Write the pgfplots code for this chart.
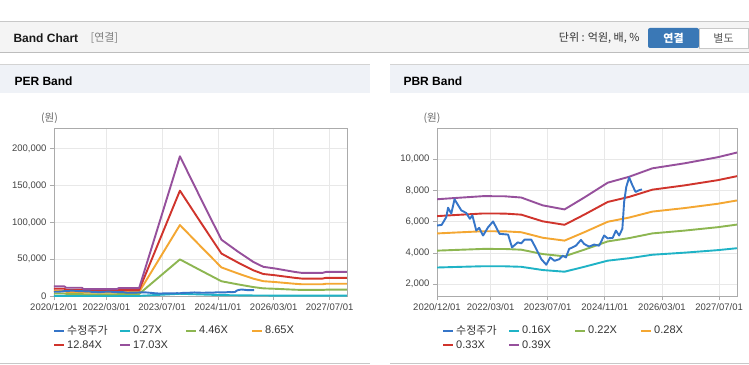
\documentclass[border=0pt]{standalone}
\usepackage{fontspec}
\setmainfont{Liberation Sans}
\newfontfamily\kr{Noto Sans CJK KR}
\usepackage{pgfplots}
\usepackage{pgfplotstable}
\pgfplotsset{compat=1.18}
\definecolor{cPrice}{HTML}{3575C8}
\definecolor{cCyan}{HTML}{1FB3C6}
\definecolor{cGreen}{HTML}{8DB651}
\definecolor{cOrange}{HTML}{F4A732}
\definecolor{cRed}{HTML}{D0342C}
\definecolor{cPurple}{HTML}{96509C}
\definecolor{gridc}{HTML}{E8E8E8}
\definecolor{framec}{HTML}{ABABAB}
\definecolor{tickc}{HTML}{444444}
\definecolor{headbg}{HTML}{F4F4F4}
\definecolor{hline}{HTML}{C8C8C8}
\definecolor{panelbg}{HTML}{EFF2F7}
\definecolor{btnblue}{HTML}{3A78B6}

\pgfplotstableread{
m v
0 5760
1.3 5800
2.6 6300
3.1 6900
4.0 6520
4.9 7440
6.8 6730
8.2 6560
9.2 6190
9.9 6410
11.0 5440
11.8 5610
12.9 5120
14.3 5650
15.7 6020
17.5 5230
19.9 5180
21.0 4360
22.6 4680
23.6 4620
24.5 4860
26.4 4860
27.8 4260
29.2 3610
30.6 3250
31.7 3720
32.9 3500
34.3 3610
35.2 3830
36.1 3720
37.0 4260
38.9 4470
40.3 4840
41.2 4580
42.6 4410
44.0 4540
45.4 4470
46.8 5120
47.8 4940
49.2 4970
50.1 5440
51.0 5120
51.9 5550
52.4 7270
53.0 8230
53.8 8840
54.7 8340
55.6 7910
56.6 8020
57.4 8070
}\price

\pgfplotstableread{
m p0 p1 p2 p3 p4
0 206 3406 6604 9802 13000
3 206 3406 6604 9802 13000
3.5 178 2934 5690 8445 11200
8 178 2934 5690 8445 11200
8.5 147 2437 4724 7012 9300
18 147 2437 4724 7012 9300
18.5 168 2777 5385 7992 10600
24.4 168 2777 5385 7992 10600
36.1 3005 49675 96317 142958 189600
41.8 2140 35370 68580 101790 135000
48 1211 20017 38811 57606 76400
52.8 951 15720 30480 45240 60000
57.1 735 12157 23571 34986 46400
60 628 10375 20117 29858 39600
63.3 593 9799 18999 28200 37400
69 518 8567 16612 24656 32700
71 498 8227 15951 23676 31400
77 498 8227 15951 23676 31400
78 518 8567 16612 24656 32700
84 518 8567 16612 24656 32700
}\per

\pgfplotstableread{
m b0 b1 b2 b3 b4
0 3073 4152 5253 6361 7440
5 3106 4196 5309 6430 7520
13 3155 4263 5394 6532 7640
19 3151 4258 5387 6524 7630
23.6 3118 4213 5330 6455 7550
29.6 2912 3934 4977 6028 7050
35.7 2804 3789 4794 5805 6790
41.3 3122 4218 5337 6464 7560
47.8 3511 4743 6001 7268 8500
53.8 3667 4955 6269 7592 8880
60.3 3890 5256 6651 8054 9420
69.3 4023 5435 6876 8328 9740
78.6 4184 5653 7152 8661 10130
84 4308 5820 7364 8918 10430
}\pbr

\pgfplotsset{
  bandaxis/.style={
    scale only axis, anchor=south west,
    axis line style={framec, line width=0.8pt},
    grid=major, major grid style={gridc, line width=0.8pt},
    tick align=outside, major tick length=4pt,
    xtick pos=bottom, ytick pos=left,
    tick style={framec, line width=0.8pt},
    xtick={0,15,31,47,63,79},
    xticklabels={2020/12/01,2022/03/01,2023/07/01,2024/11/01,2026/03/01,2027/07/01},
    xmin=0, xmax=84,
    ticklabel style={font=\fontsize{9.5}{10}\selectfont, text=tickc},
    yticklabel={\pgfmathprintnumber[fixed,precision=0,1000 sep={,},assume math mode=true]{\tick}},
    scaled y ticks=false,
    every axis plot/.append style={line width=1.9pt, line join=round},
    legend columns=4,
    legend cell align=left,
    legend image code/.code={\draw[##1, line width=2pt] (0pt,0pt) -- (10pt,0pt);},
    legend style={draw=none, fill=none, anchor=north west,
      font=\fontsize{11}{12}\selectfont, text=black!80, inner sep=0pt,
      nodes={text width=48pt, align=left, inner xsep=2pt, inner ysep=1pt},
      row sep=3pt,
      /tikz/every even column/.append style={column sep=2pt}},
  }
}

\begin{document}
\begin{tikzpicture}[x=1pt,y=1pt]
\useasboundingbox (0,0) rectangle (749,364);
\fill[white] (0,0) rectangle (749,364);
% top header
\fill[headbg] (0,311) rectangle (749,342);
\draw[hline, line width=1pt] (0,342) -- (749,342);
\draw[hline!120, line width=1pt] (0,311) -- (749,311);
\node[anchor=west, font=\fontsize{12}{14}\selectfont\bfseries, text=black!90] at (10,326) {Band Chart};
\node[anchor=west, text=black!50, font=\fontsize{11}{13}\selectfont\kr] at (87,326) {[연결]};
\node[anchor=east, text=black!80, font=\fontsize{11}{13}\selectfont\kr] at (643,326) {단위 : 억원, 배, \%};
\fill[btnblue, rounded corners=2pt] (648,316) rectangle (699,336);
\node[text=white, font=\fontsize{11}{13}\selectfont\kr\bfseries] at (673.5,326) {연결};
\fill[white] (699,316) rectangle (748,336);
\draw[hline] (699,316) rectangle (748,336);
\node[text=black!65, font=\fontsize{11}{13}\selectfont\kr] at (723.5,326) {별도};
% panel headers
\fill[panelbg] (0,271) rectangle (370,300);
\draw[hline!80] (0,300) -- (370,300);
\fill[panelbg] (390,271) rectangle (749,300);
\draw[hline!80] (390,300) -- (749,300);
\node[anchor=west, font=\fontsize{12}{14}\selectfont\bfseries] at (11,283) {PER Band};
\node[anchor=west, font=\fontsize{12}{14}\selectfont\bfseries] at (400,283) {PBR Band};
\draw[hline, line width=1pt] (0,1) -- (370,1);
\draw[hline, line width=1pt] (390,1) -- (749,1);
\node[text=black!60, font=\fontsize{10.5}{12}\selectfont\kr] at (49.5,246) {(원)};
\node[text=black!60, font=\fontsize{10.5}{12}\selectfont\kr] at (432,246) {(원)};

% PER axis
\begin{axis}[bandaxis, at={(54pt,68pt)}, width=293pt, height=168pt,
  ymin=0, ymax=228000, ytick={0,50000,100000,150000,200000},
  legend style={at={(-0.0034,-0.167)}}]
\addlegendimage{cPrice}
\addlegendentry{{\kr 수정주가}}
\addplot[cCyan] table[x=m,y=p0] {\per};
\addlegendentry{0.27X}
\addplot[cGreen] table[x=m,y=p1] {\per};
\addlegendentry{4.46X}
\addplot[cOrange] table[x=m,y=p2] {\per};
\addlegendentry{8.65X}
\addplot[cRed] table[x=m,y=p3] {\per};
\addlegendentry{12.84X}
\addplot[cPurple] table[x=m,y=p4] {\per};
\addlegendentry{17.03X}
\addplot[cPrice, forget plot] table[x=m,y=v] {\price};
\end{axis}

% PBR axis
\begin{axis}[bandaxis, at={(437pt,68pt)}, width=300pt, height=168pt,
  ymin=1250, ymax=12000, ytick={2000,4000,6000,8000,10000},
  legend style={at={(0.0167,-0.167)}}]
\addlegendimage{cPrice}
\addlegendentry{{\kr 수정주가}}
\addplot[cCyan] table[x=m,y=b0] {\pbr};
\addlegendentry{0.16X}
\addplot[cGreen] table[x=m,y=b1] {\pbr};
\addlegendentry{0.22X}
\addplot[cOrange] table[x=m,y=b2] {\pbr};
\addlegendentry{0.28X}
\addplot[cRed] table[x=m,y=b3] {\pbr};
\addlegendentry{0.33X}
\addplot[cPurple] table[x=m,y=b4] {\pbr};
\addlegendentry{0.39X}
\addplot[cPrice, forget plot] table[x=m,y=v] {\price};
\end{axis}
\end{tikzpicture}
\end{document}
